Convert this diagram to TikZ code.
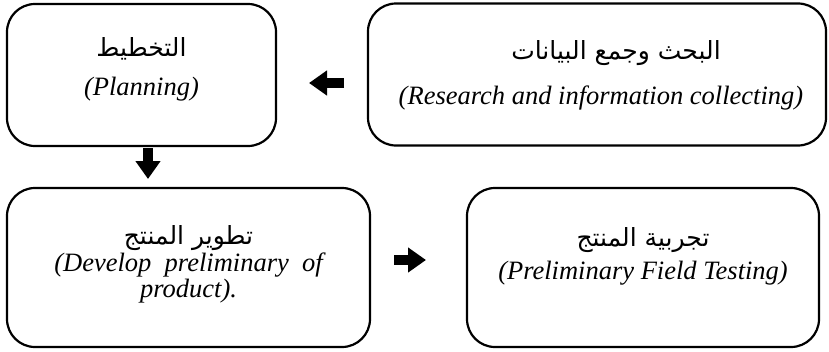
\documentclass[tikz,border=0pt]{standalone}
\usepackage{fontspec}
\setmainfont{Liberation Serif}
\newfontfamily\arabicfont[Script=Arabic]{DejaVu Sans}
\TeXXeTstate=1
\usetikzlibrary{arrows.meta}
\tikzset{
  stepbox/.style={draw, line width=2.2pt, rounded corners=28pt, inner sep=0pt},
  artext/.style={font=\arabicfont\fontsize{25}{28}\selectfont, inner sep=0pt},
  entext/.style={font=\fontsize{26.5}{22}\selectfont\itshape, inner sep=0pt, align=center},
  blockarrow/.style={line width=10pt, -{Triangle[width=24pt,length=18pt]}}
}
\begin{document}
\begin{tikzpicture}[x=1pt,y=-1pt]
\useasboundingbox (0,0) rectangle (829,351);
% boxes
\node[stepbox, minimum width=269pt, minimum height=142pt] (plan) at (141.5,75) {};
\node[stepbox, minimum width=458pt, minimum height=142pt] (res) at (597,74.5) {};
\node[stepbox, minimum width=363pt, minimum height=159pt] (dev) at (188.5,267.5) {};
\node[stepbox, minimum width=352pt, minimum height=159pt] (test) at (643,267.5) {};
% texts
\node[artext] (planar) at (141.5,49) {\beginR التخطيط\endR};
\node[entext] (planen) at (141.5,89) {(Planning)};
\node[artext] (resar) at (616,53) {\beginR البحث وجمع البيانات\endR};
\node[entext] (resen) at (601,98) {(Research and information collecting)};
\node[artext] (devar) at (188.5,238) {\beginR تطوير المنتج\endR};
\node[entext] (deven) at (188.5,278) {(Develop\ \ preliminary\ \ of\\product).};
\node[artext] (testar) at (643,240) {\beginR تجربية المنتج\endR};
\node[entext] (testen) at (643,273) {(Preliminary Field Testing)};
% arrows
\coordinate (a1s) at (344,83);
\coordinate (a1e) at (309,83);
\coordinate (a2s) at (148,148);
\coordinate (a2e) at (148,179);
\coordinate (a3s) at (394,260);
\coordinate (a3e) at (426,260);
\draw[blockarrow] (a1s) -- (a1e);
\draw[blockarrow] (a2s) -- (a2e);
\draw[blockarrow] (a3s) -- (a3e);
\end{tikzpicture}
\end{document}
